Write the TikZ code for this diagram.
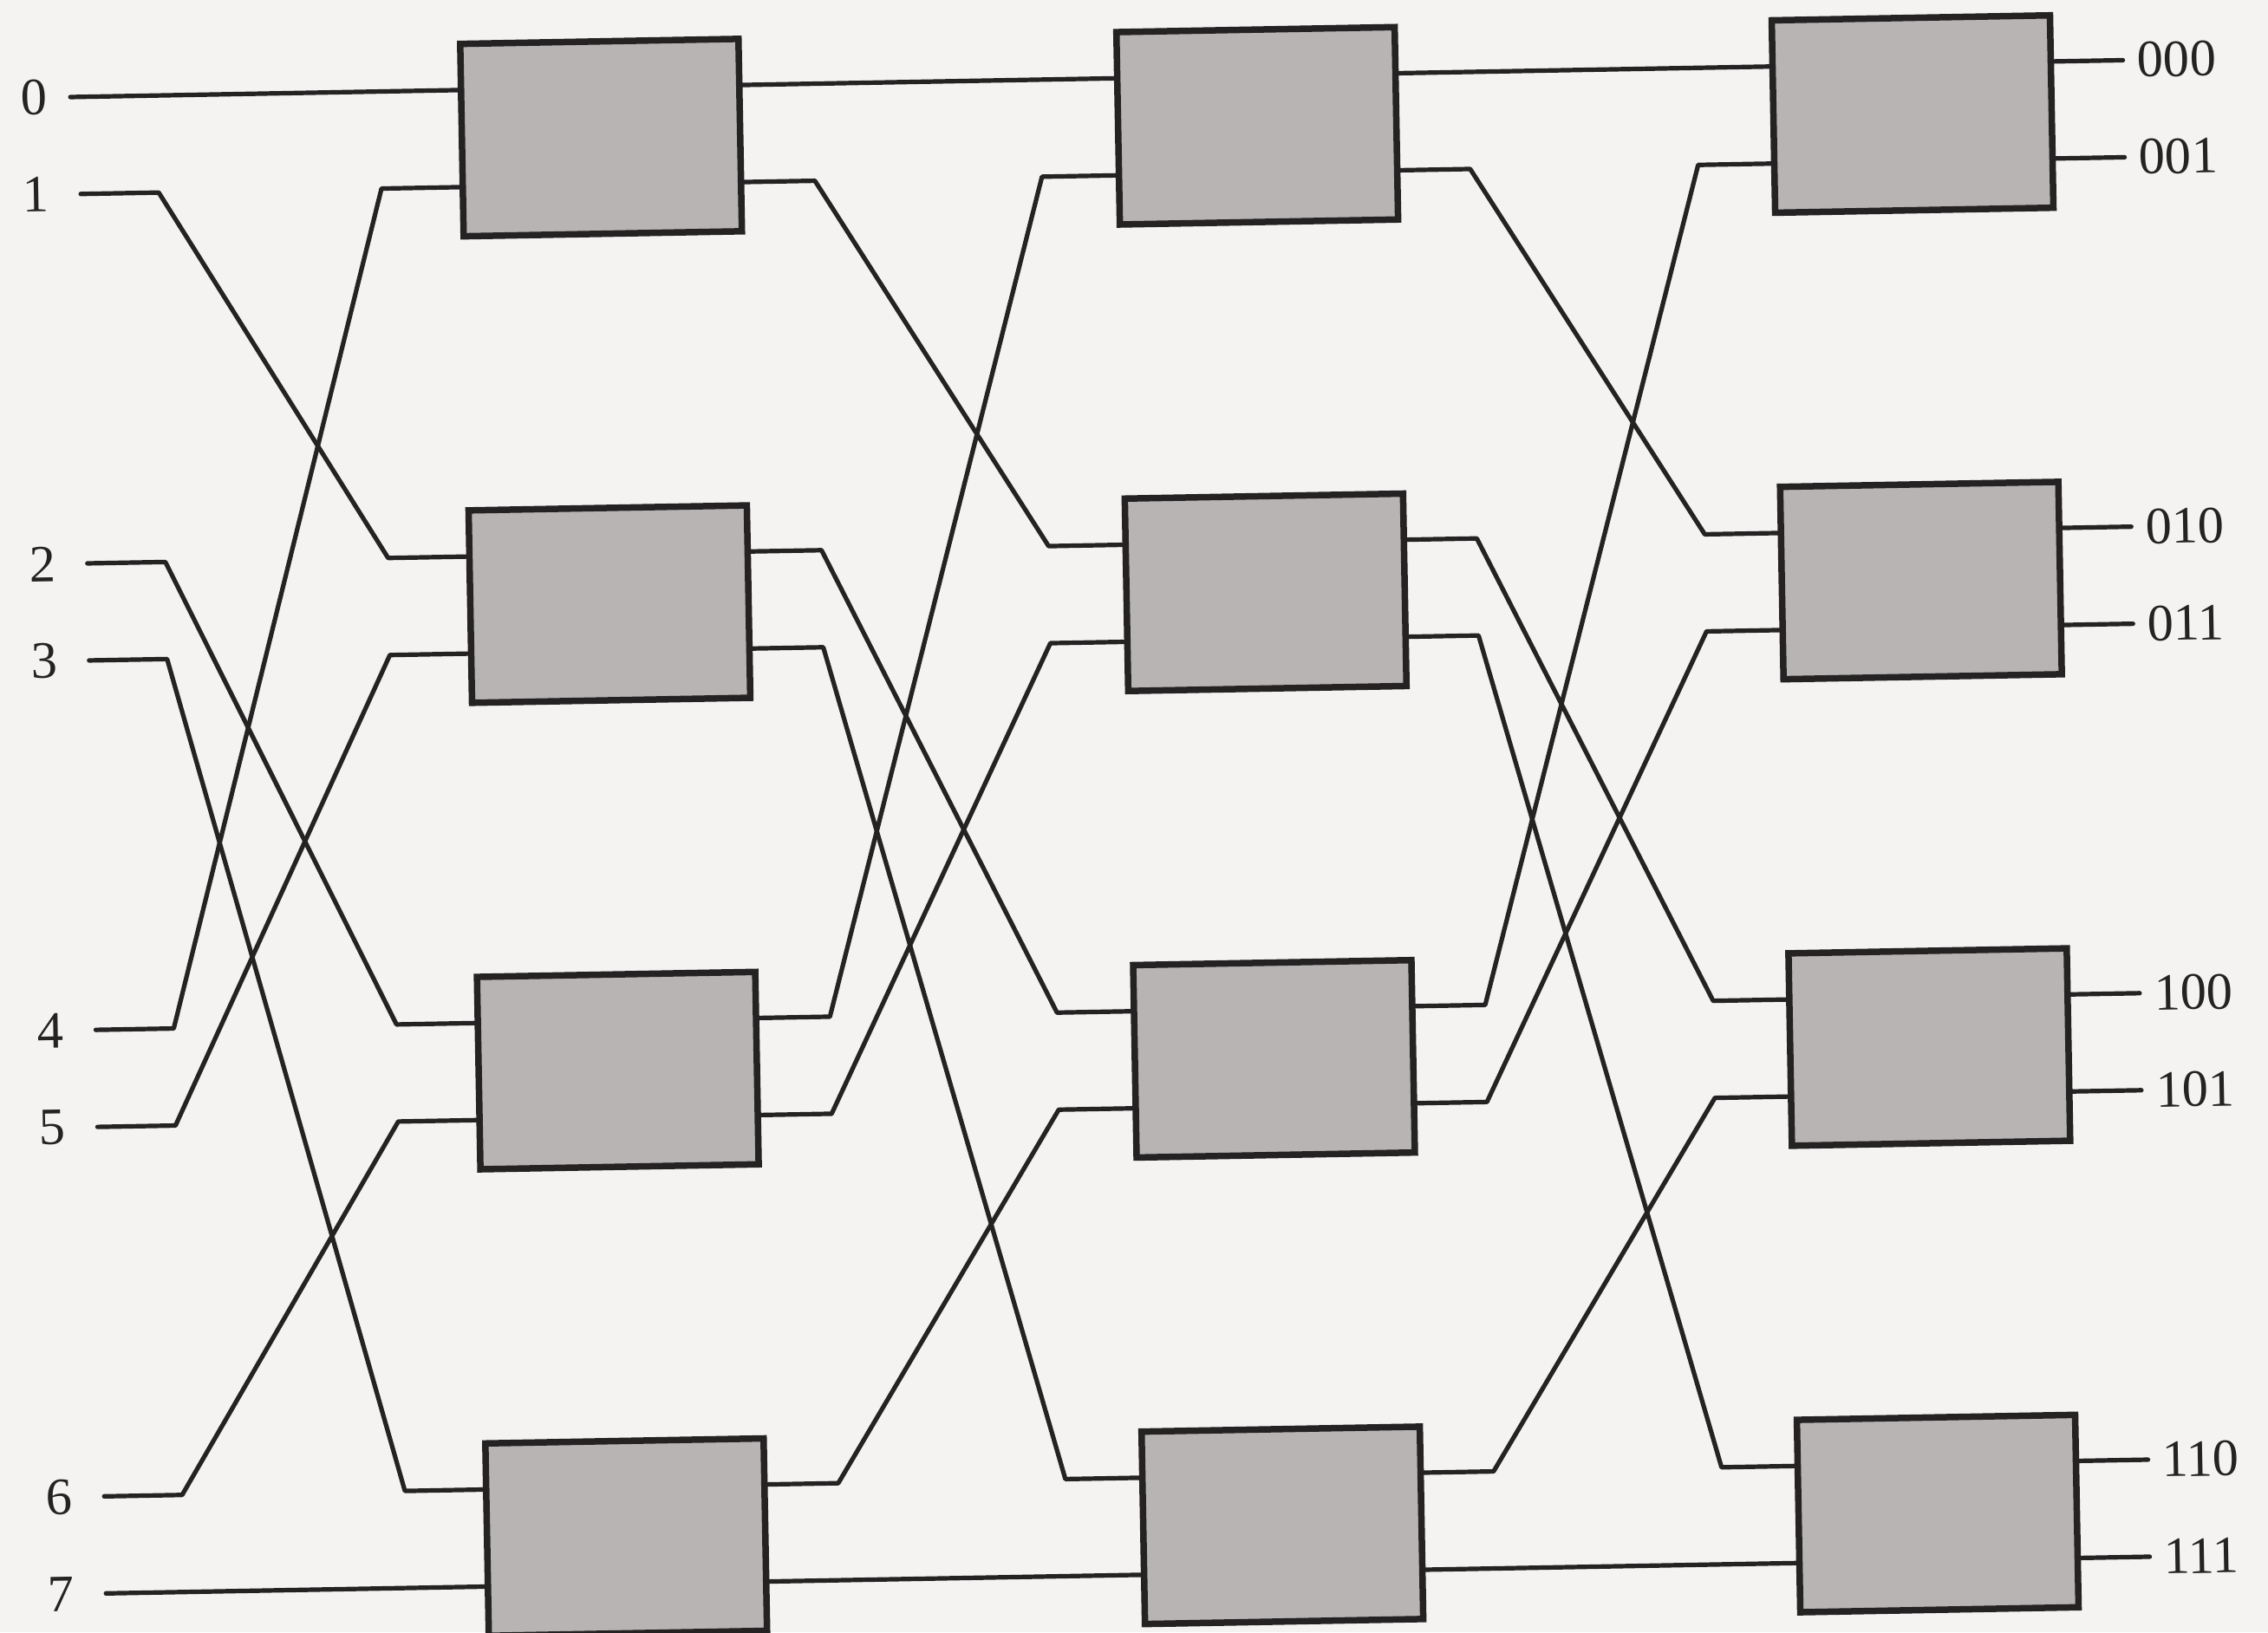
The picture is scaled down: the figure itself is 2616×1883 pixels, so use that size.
\documentclass[tikz,border=0pt]{standalone}
\usepackage{fontspec}
\setmainfont{Liberation Serif}
\definecolor{paper}{RGB}{244,243,241}
\definecolor{boxcol}{RGB}{184,180,180}
\definecolor{linecol}{RGB}{36,34,34}
\begin{document}
\begin{tikzpicture}[x=0.1mm,y=-0.1mm,
  swbox/.style={draw=linecol, line width=0.75mm, fill=boxcol, minimum width=32.1mm,
    minimum height=22.2mm, inner sep=0pt, anchor=north west},
  wire/.style={draw=linecol, line width=0.52mm, line join=round, line cap=round},
  lab/.style={font=\fontsize{17.2}{20}\selectfont, text=linecol, inner sep=0pt}]
\useasboundingbox (0,0) rectangle (2616,1883);
\fill[paper] (0,0) rectangle (2616,1883);
\begin{scope}[rotate around={1.03:(525,47)}, transform shape]
  % port coordinates
  \foreach \p in {0,...,7}{
    \pgfmathsetmacro\y{47+538.3*int(\p/2)+57+112*mod(\p,2)}
    \pgfmathsetmacro\sx{\p==0 ? 80 : 90}
    \coordinate (In\p) at (\sx,\y);
    \coordinate (Inb\p) at (180,\y);
    \coordinate (Aib\p) at (437,\y);
    \coordinate (Ai\p) at (527,\y);
    \coordinate (Ao\p) at (848,\y);
    \coordinate (Aob\p) at (937,\y);
    \coordinate (Bib\p) at (1199,\y);
    \coordinate (Bi\p) at (1284,\y);
    \coordinate (Bo\p) at (1605,\y);
    \coordinate (Bob\p) at (1693,\y);
    \coordinate (Cib\p) at (1956,\y);
    \coordinate (Ci\p) at (2040,\y);
    \coordinate (Co\p) at (2361,\y);
    \coordinate (Out\p) at (2448,\y);
  }
  % connectors (perfect shuffle between stages)
  \foreach \p in {0,...,7}{
    \pgfmathtruncatemacro\q{mod(2*\p,8)+int(\p/4)}
    \draw[wire] (In\p) -- (Inb\p) -- (Aib\q) -- (Ai\q);
    \draw[wire] (Ao\p) -- (Aob\p) -- (Bib\q) -- (Bi\q);
    \draw[wire] (Bo\p) -- (Bob\p) -- (Cib\q) -- (Ci\q);
    \draw[wire] (Co\p) -- (Out\p);
  }
  % switch boxes
  \foreach \c/\cx in {A/527,B/1284,C/2040}{
    \foreach \r in {0,...,3}{
      \pgfmathsetmacro\ty{47+538.3*\r}
      \node[swbox] (\c\r) at (\cx,\ty) {};
    }
  }
  % labels
  \foreach \p in {0,...,7}{
    \pgfmathsetmacro\y{47+538.3*int(\p/2)+57+112*mod(\p,2)}
    \node[lab] (L\p) at (38,\y) {\p};
  }
  \foreach \p/\t in {0/000,1/001,2/010,3/011,4/100,5/101,6/110,7/111}{
    \pgfmathsetmacro\y{47+538.3*int(\p/2)+57+112*mod(\p,2)}
    \node[lab, anchor=west] (O\p) at (2464,\y) {\t};
  }
\end{scope}
\end{tikzpicture}
\end{document}
